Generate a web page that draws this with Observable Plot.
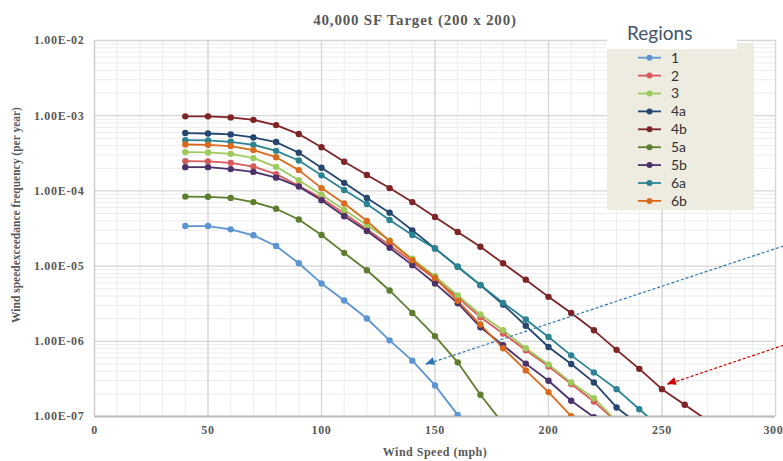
<!DOCTYPE html>
<html>
<head>
<meta charset="utf-8">
<script src="https://cdn.jsdelivr.net/npm/d3@7"></script>
<script src="https://cdn.jsdelivr.net/npm/@observablehq/plot@0.6"></script>
<style>
  body { margin: 0; background: #ffffff; }
  #wrap { position: relative; width: 783px; height: 461px; overflow: hidden; background: #ffffff; }
  #wrap svg { position: absolute; left: 0; top: 0; }
  .ov { position: absolute; white-space: nowrap; }
  .serif { font-family: "Liberation Serif", "Times New Roman", serif; font-weight: bold; color: #595959; }
</style>
</head>
<body>
<div id="wrap"></div>
<script>
// ---------------- data ----------------
const title = "40,000 SF Target (200 x 200)";
const xLabel = "Wind Speed (mph)";
const yLabel = "Wind speedexceedance frequency (per year)";
const legendTitle = "Regions";

const speeds = [40, 50, 60, 70, 80, 90, 100, 110, 120, 130, 140, 150, 160, 170, 180, 190, 200, 210, 220, 230, 240, 250, 260, 270];

const regionNames = ["1", "2", "3", "4a", "4b", "5a", "5b", "6a", "6b"];
const regionColors = ["#5B95D3", "#D85A5A", "#9CCB5C", "#25466F", "#7F2426", "#5E7E2F", "#4C316A", "#2B8494", "#DA6A1C"];

const region1  = [3.41e-5, 3.41e-5, 3.08e-5, 2.57e-5, 1.85e-5, 1.09e-5, 5.88e-6, 3.49e-6, 2.01e-6, 1.03e-6, 5.53e-7, 2.59e-7, 1.05e-7, 4.2e-8];
const region2  = [2.49e-4, 2.47e-4, 2.36e-4, 2.11e-4, 1.67e-4, 1.17e-4, 8.0e-5, 5.0e-5, 3.1e-5, 1.9e-5, 1.13e-5, 6.8e-6, 3.85e-6, 2.09e-6, 1.27e-6, 7.6e-7, 4.64e-7, 2.7e-7, 1.58e-7, 8.5e-8];
const region3  = [3.28e-4, 3.25e-4, 3.11e-4, 2.73e-4, 2.09e-4, 1.39e-4, 8.9e-5, 5.6e-5, 3.52e-5, 2.2e-5, 1.25e-5, 7.35e-6, 4.07e-6, 2.27e-6, 1.40e-6, 8.1e-7, 4.9e-7, 2.84e-7, 1.75e-7, 8.7e-8];
const region4a = [5.88e-4, 5.8e-4, 5.64e-4, 5.14e-4, 4.46e-4, 3.21e-4, 2.03e-4, 1.28e-4, 8.07e-5, 5.14e-5, 2.99e-5, 1.72e-5, 9.8e-6, 5.58e-6, 3.08e-6, 1.61e-6, 8.4e-7, 4.98e-7, 2.84e-7, 1.32e-7, 7.7e-8];
const region4b = [9.8e-4, 9.8e-4, 9.5e-4, 8.8e-4, 7.5e-4, 5.7e-4, 3.8e-4, 2.44e-4, 1.63e-4, 1.09e-4, 7.1e-5, 4.5e-5, 2.84e-5, 1.81e-5, 1.09e-5, 6.6e-6, 3.9e-6, 2.38e-6, 1.40e-6, 7.7e-7, 4.3e-7, 2.31e-7, 1.43e-7, 8.9e-8];
const region5a = [8.4e-5, 8.35e-5, 8.07e-5, 7.1e-5, 5.8e-5, 4.17e-5, 2.59e-5, 1.5e-5, 8.8e-6, 4.74e-6, 2.38e-6, 1.17e-6, 5.25e-7, 1.95e-7, 8.0e-8];
const region5b = [2.07e-4, 2.07e-4, 1.95e-4, 1.79e-4, 1.50e-4, 1.14e-4, 7.5e-5, 4.6e-5, 2.93e-5, 1.75e-5, 1.03e-5, 5.88e-6, 3.21e-6, 1.54e-6, 8.85e-7, 5.05e-7, 2.99e-7, 1.62e-7, 9.8e-8, 5.6e-8];
const region6a = [4.74e-4, 4.7e-4, 4.5e-4, 4.1e-4, 3.41e-4, 2.54e-4, 1.61e-4, 1.03e-4, 6.7e-5, 4.1e-5, 2.59e-5, 1.72e-5, 9.8e-6, 5.6e-6, 3.24e-6, 1.95e-6, 1.14e-6, 6.5e-7, 3.86e-7, 2.31e-7, 1.25e-7, 6.8e-8];
const region6b = [4.14e-4, 4.1e-4, 3.95e-4, 3.49e-4, 2.81e-4, 1.89e-4, 1.09e-4, 6.8e-5, 3.98e-5, 2.15e-5, 1.2e-5, 7.0e-6, 3.45e-6, 1.67e-6, 8.1e-7, 4.1e-7, 2.11e-7, 1.01e-7, 4.8e-8];

const xTicks = [0, 50, 100, 150, 200, 250, 300];
const xTickLabels = ["0", "50", "100", "150", "200", "250", "300"];
const yTicks = [1e-7, 1e-6, 1e-5, 1e-4, 1e-3, 1e-2];
const yTickLabels = ["1.00E-07", "1.00E-06", "1.00E-05", "1.00E-04", "1.00E-03", "1.00E-02"];

// annotation arrows (data coordinates)
const arrowFromSpeed = [303.5, 303.5];
const arrowFromFreq  = [1.85e-5, 8.85e-7];
const arrowToSpeed   = [146, 252.4];
const arrowToFreq    = [4.93e-7, 2.67e-7];
const arrowColors    = ["#2E75B6", "#D00000"];

// ---------------- build ----------------
const seriesValues = [region1, region2, region3, region4a, region4b, region5a, region5b, region6a, region6b];
const rows = regionNames.flatMap((name, k) =>
  seriesValues[k].map((v, i) => ({region: name, speed: speeds[i], freq: v})));

const minorY = d3.range(-7, -2).flatMap(e => d3.range(2, 10).map(m => m * Math.pow(10, e)));
const minorX = d3.range(0, 301, 10);

const arrows = arrowFromSpeed.map((d, i) => ({
  x1: d, y1: arrowFromFreq[i], x2: arrowToSpeed[i], y2: arrowToFreq[i], color: arrowColors[i]
}));

const xLab = xTicks.map((t, i) => ({t, label: xTickLabels[i]}));
const xLabInner = xLab.slice(0, -1);
const xLabLast = xLab.slice(-1);

const chart = Plot.plot({
  width: 783,
  height: 461,
  marginLeft: 94,
  marginRight: 8,
  marginTop: 40,
  marginBottom: 45,
  style: {
    fontFamily: "'Liberation Serif', 'Times New Roman', serif",
    fontSize: "12px",
    fontWeight: "bold",
    color: "#595959",
    background: "transparent",
    letterSpacing: "0.7px"
  },
  x: {
    domain: [0, 300],
    axis: null
  },
  y: {
    type: "log",
    domain: [1e-7, 1e-2],
    ticks: yTicks,
    tickFormat: d => yTickLabels[yTicks.indexOf(d)],
    tickSize: 0,
    tickPadding: 10,
    label: null
  },
  color: {domain: regionNames, range: regionColors},
  marks: [
    Plot.ruleX(minorX, {stroke: "#ececec", strokeWidth: 1}),
    Plot.ruleY(minorY, {stroke: "#ececec", strokeWidth: 1}),
    Plot.ruleX(xTicks, {stroke: "#d6d6d6", strokeWidth: 1.3}),
    Plot.ruleY(yTicks, {stroke: "#d6d6d6", strokeWidth: 1.3}),
    Plot.ruleY([1e-7], {stroke: "#bdbdbd", strokeWidth: 2}),
    Plot.ruleX([0], {stroke: "#cfcfcf", strokeWidth: 1.3}),
    Plot.text(xLabInner, {x: "t", frameAnchor: "bottom", dy: 17, text: "label", fill: "#595959"}),
    Plot.text(xLabLast, {x: "t", frameAnchor: "bottom", dy: 17, dx: 8, textAnchor: "end", text: "label", fill: "#595959"}),
    Plot.line(rows, {x: "speed", y: "freq", z: "region", stroke: "region", strokeWidth: 1.8, clip: true}),
    Plot.dot(rows, {x: "speed", y: "freq", fill: "region", r: 3.2, clip: true}),
    ...arrows.map(a => Plot.link([a], {
      x1: "x1", y1: "y1", x2: "x2", y2: "y2",
      stroke: a.color, strokeWidth: 1.2, strokeDasharray: "3,2"
    }))
  ]
});

const wrap = document.getElementById("wrap");
wrap.appendChild(chart);

// arrowheads positioned from the chart's own scales
const sx = chart.scale("x"), sy = chart.scale("y");
const svg = d3.select(chart);
arrows.forEach(a => {
  const X1 = sx.apply(a.x1), Y1 = sy.apply(a.y1), X2 = sx.apply(a.x2), Y2 = sy.apply(a.y2);
  const len = Math.hypot(X2 - X1, Y2 - Y1);
  const ux = (X2 - X1) / len, uy = (Y2 - Y1) / len;
  const L = 9, W = 4;
  const bx = X2 - ux * L, by = Y2 - uy * L;
  const pts = [[X2, Y2], [bx - uy * W, by + ux * W], [bx + uy * W, by - ux * W]];
  svg.append("polygon").attr("points", pts.map(p => p.join(",")).join(" ")).attr("fill", a.color);
});

// ---------- overlay texts ----------
function addText(txt, cls, css) {
  const d = document.createElement("div");
  d.className = "ov " + cls;
  d.textContent = txt;
  Object.assign(d.style, css);
  wrap.appendChild(d);
  return d;
}
addText(title, "serif", {left: "415px", top: "20px", transform: "translate(-50%,-50%)", fontSize: "15px", letterSpacing: "0.8px"});
addText(xLabel, "serif", {left: "435px", top: "452px", transform: "translate(-50%,-50%)", fontSize: "12px", letterSpacing: "0.5px"});
addText(yLabel, "serif", {left: "16px", top: "215px", transform: "translate(-50%,-50%) rotate(-90deg)", fontSize: "11.5px"});

// ---------- legend ----------
const lg = document.createElement("div");
Object.assign(lg.style, {position: "absolute", left: "607px", top: "43px", width: "147px", height: "167px", background: "#EEEBE1"});
wrap.appendChild(lg);
const patch = document.createElement("div");
Object.assign(patch.style, {position: "absolute", left: "607px", top: "16px", width: "130px", height: "33px", background: "#ffffff"});
wrap.appendChild(patch);
addText(legendTitle, "", {left: "627px", top: "18px", fontFamily: "Lato, 'Open Sans', sans-serif", fontSize: "19px", color: "#44546A", lineHeight: "30px"});

const lsvg = d3.select(wrap).append("svg")
  .attr("width", 783).attr("height", 461)
  .style("position", "absolute").style("left", 0).style("top", 0).style("pointer-events", "none");
regionNames.forEach((name, i) => {
  const cy = 57.7 + i * 17.9;
  lsvg.append("line").attr("x1", 638).attr("x2", 661).attr("y1", cy).attr("y2", cy)
    .attr("stroke", regionColors[i]).attr("stroke-width", 1.8);
  lsvg.append("circle").attr("cx", 649.5).attr("cy", cy).attr("r", 3).attr("fill", regionColors[i]);
  lsvg.append("text").attr("x", 671).attr("y", cy).attr("dy", "0.35em")
    .attr("font-family", "Lato, 'Open Sans', sans-serif").attr("font-size", 14)
    .attr("fill", "#333333").text(name);
});
</script>
</body>
</html>
